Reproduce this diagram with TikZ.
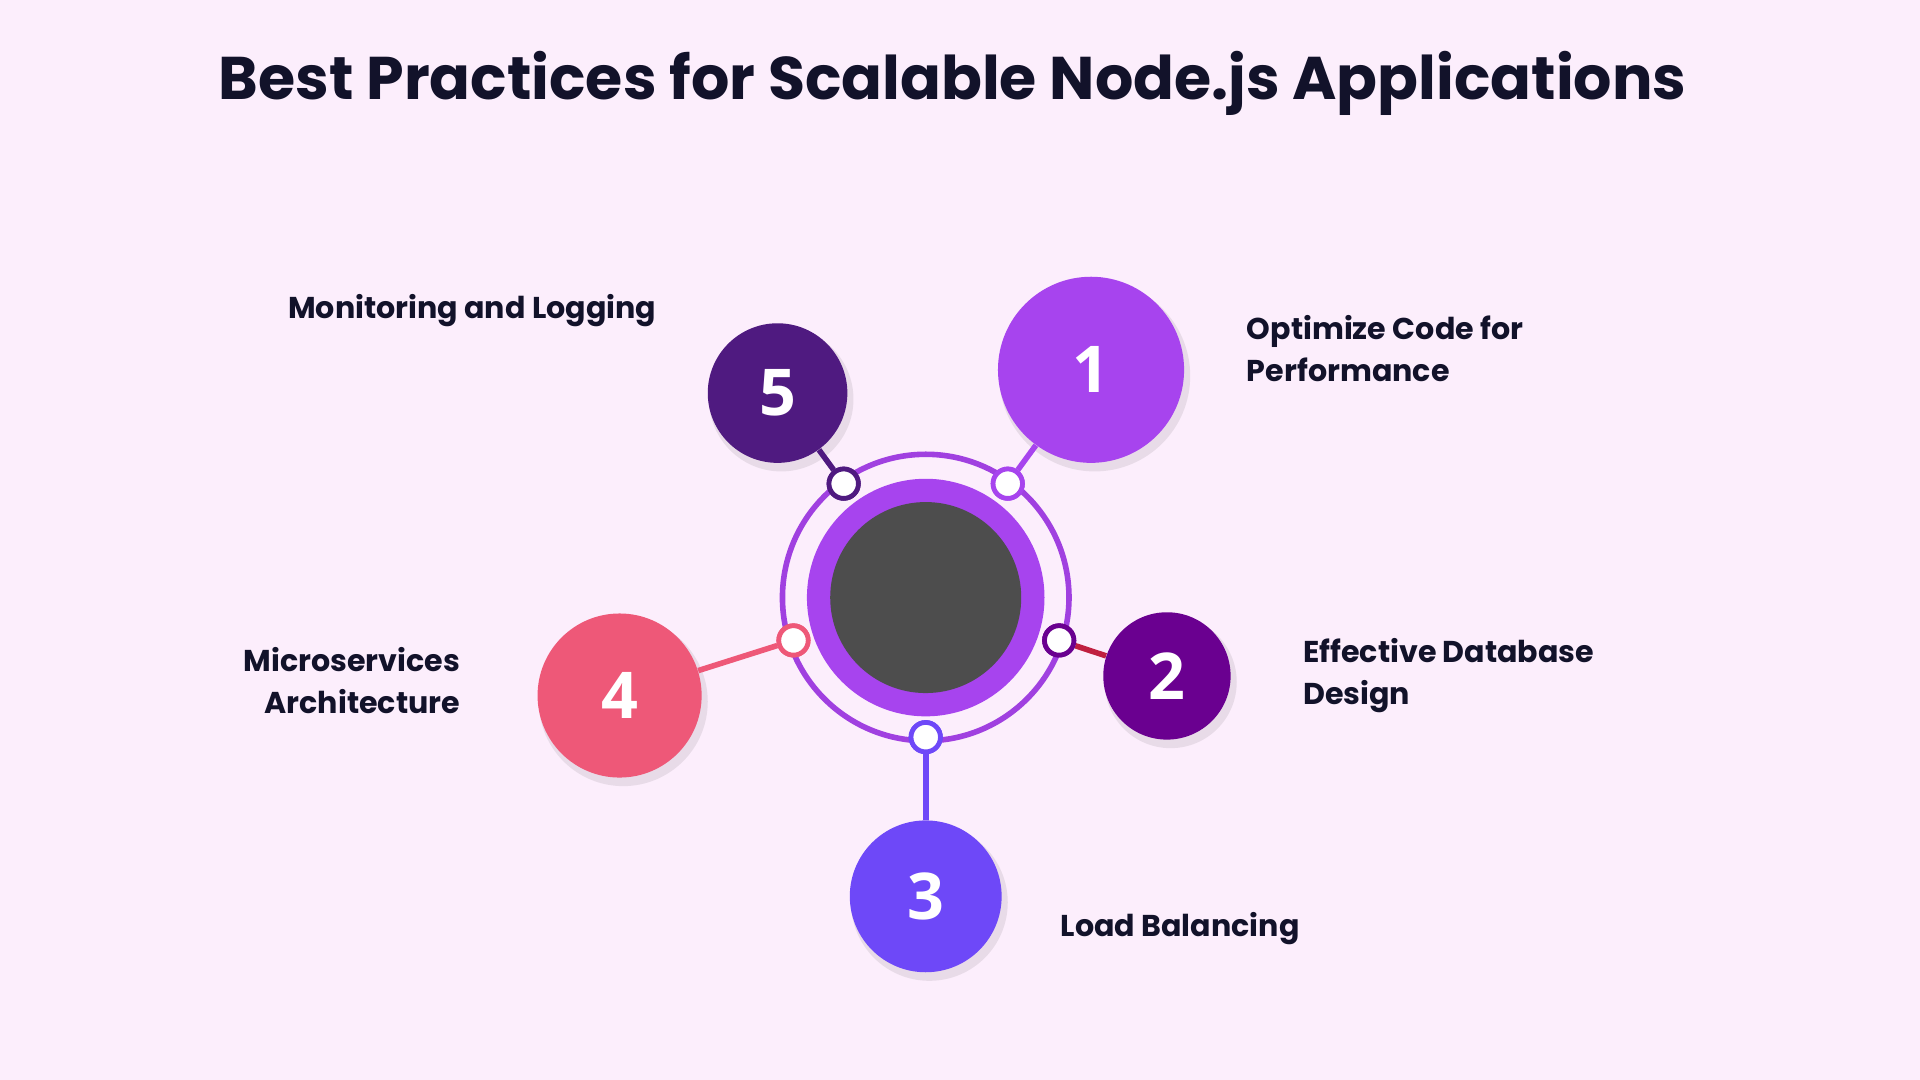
\documentclass[tikz,border=0pt]{standalone}
\usepackage{fontspec}
\setmainfont{Poppins}
\newfontfamily\numfont{Open Sans}
\usetikzlibrary{calc}
\definecolor{bg}{HTML}{FCEEFC}
\definecolor{ttl}{HTML}{12122A}
\definecolor{cA}{HTML}{A744EE}
\definecolor{cB}{HTML}{6A0090}
\definecolor{cBl}{HTML}{C02040}
\definecolor{cC}{HTML}{6E48F8}
\definecolor{cD}{HTML}{EE5878}
\definecolor{cE}{HTML}{4F1A80}
\definecolor{ring}{HTML}{A040E0}
\definecolor{core}{HTML}{4D4D4D}
\begin{document}
\begin{tikzpicture}[x=0.02cm,y=-0.02cm,
  big/.style={circle,inner sep=0pt,text=white,font=\numfont\bfseries\fontsize{30}{30}\selectfont},
  dot/.style={circle,fill=white,line width=2.2pt,minimum size=24*0.02cm,inner sep=0pt},
  lbl/.style={font=\fontsize{14}{19.5}\selectfont\bfseries,text=ttl,inner sep=0pt},
  con/.style={line width=2.6pt}]
\fill[bg] (0,0) rectangle (1568,882);
\useasboundingbox (0,0) rectangle (1568,882);
\node[font=\fontsize{28}{32}\selectfont\bfseries,text=ttl] (title) at (778,68) {Best Practices for Scalable Node.js Applications};
% centre
\fill[cA] (756,488) circle (97);
\fill[core] (756,488) circle (78);
\draw[ring,line width=2.6pt] (756,488) circle (117);
\coordinate (c) at (756,488);
% shadows
\foreach \x/\y/\r in {891/302/76,953/552/52,756/732/62,506/568/67,635/321/57}
  \fill[black,opacity=0.08] (\x+3,\y+5) circle (\r+2);
\node[big,fill=cA,minimum size=152*0.02cm] (n1) at (891,302) {1};
\node[big,fill=cB,minimum size=104*0.02cm] (n2) at (953,552) {2};
\node[big,fill=cC,minimum size=124*0.02cm] (n3) at (756,732) {3};
\node[big,fill=cD,minimum size=134*0.02cm] (n4) at (506,568) {4};
\node[big,fill=cE,minimum size=114*0.02cm] (n5) at (635,321) {5};
\node[dot,draw=cA] (d1) at (823,395) {};
\node[dot,draw=cB] (d2) at (865,523) {};
\node[dot,draw=cC] (d3) at (756,602) {};
\node[dot,draw=cD] (d4) at (648,523) {};
\node[dot,draw=cE] (d5) at (689,395) {};
\begin{scope}[on background layer/.style={}]
\end{scope}
\draw[con,cA] (d1) -- (n1);
\draw[con,cBl] (d2) -- (n2);
\draw[con,cC] (d3) -- (n3);
\draw[con,cD] (d4) -- (n4);
\draw[con,cE] (d5) -- (n5);
\node[dot,draw=cA] at (d1) {};
\node[dot,draw=cB] at (d2) {};
\node[dot,draw=cC] at (d3) {};
\node[dot,draw=cD] at (d4) {};
\node[dot,draw=cE] at (d5) {};
\node[lbl,anchor=west,align=left] (l1) at (1018,285) {Optimize Code for\\Performance};
\node[lbl,anchor=west,align=left] (l2) at (1064,552) {Effective Database\\Design};
\node[lbl,anchor=west] (l3) at (866,758) {Load Balancing};
\node[lbl,anchor=east,align=right] (l4) at (376,556) {Microservices\\Architecture};
\node[lbl,anchor=west] (l5) at (235,254) {Monitoring and Logging};
\end{tikzpicture}
\end{document}
